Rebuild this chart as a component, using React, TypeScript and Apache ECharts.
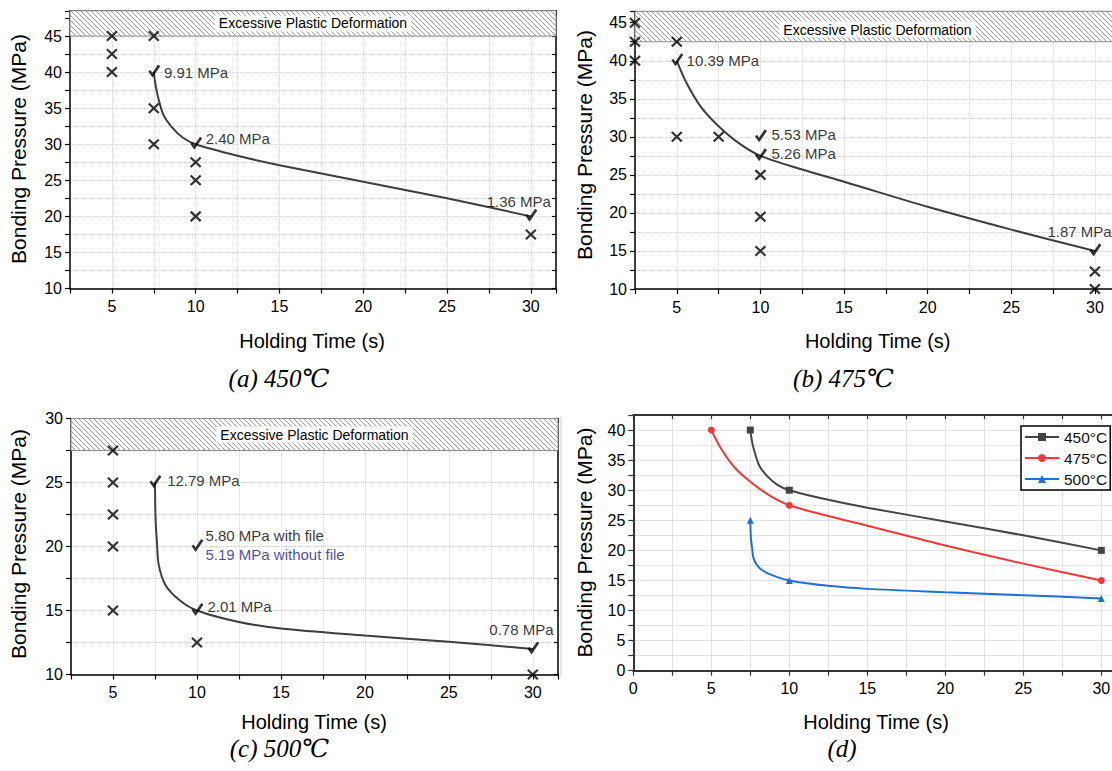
import React, { useEffect, useRef } from "react";
import * as echarts from "echarts";

const SANS = "'Liberation Sans', Arial, Helvetica, sans-serif";
const SERIF = "'Liberation Serif', 'DejaVu Serif', 'Times New Roman', serif";

// ---------- shared axis ranges ----------
const xRangeABC = [2.5, 31.5];
const yRangeA = [10, 48.5];
const yRangeB = [10, 46.5];
const yRangeC = [10, 30];
const xRangeD = [0, 31.5];
const yRangeD = [0, 42.5];

// ---------- excessive plastic deformation bands ----------
const bandA = [45, 48.5];
const bandB = [42.5, 46.5];
const bandC = [27.5, 30];
const bandText = "Excessive Plastic Deformation";

// ---------- panel (a) 450 °C ----------
const failA = [[5, 45], [5, 42.5], [5, 40], [7.5, 45], [7.5, 35], [7.5, 30], [10, 27.5], [10, 25], [10, 20], [30, 17.5]];
const okA = [[7.5, 40], [10, 30], [30, 20]];
const labelTextA = ["9.91 MPa", "2.40 MPa", "1.36 MPa"];
const labelAtA = [[7.5, 40], [10, 30], [30, 20]];

// ---------- panel (b) 475 °C ----------
const failB = [[2.5, 45], [2.5, 42.5], [2.5, 40], [5, 42.5], [5, 30], [7.5, 30], [10, 25], [10, 19.5], [10, 15], [30, 12.3], [30, 10]];
const okB = [[5, 40], [10, 30], [10, 27.5], [30, 15]];
const labelTextB = ["10.39 MPa", "5.53 MPa", "5.26 MPa", "1.87 MPa"];
const labelAtB = [[5, 40], [10, 30], [10, 27.5], [30, 15]];

// ---------- panel (c) 500 °C ----------
const failC = [[5, 27.5], [5, 25], [5, 22.5], [5, 20], [5, 15], [10, 12.5], [30, 10]];
const okC = [[7.5, 25], [10, 20], [10, 15], [30, 12]];
const labelTextC = ["12.79 MPa", "5.80 MPa with file", "5.19 MPa without file", "2.01 MPa", "0.78 MPa"];
const labelAtC = [[7.5, 25], [10, 20], [10, 20], [10, 15], [30, 12]];

// ---------- minimum bonding pressure curves ----------
const curve450 = [[7.5, 40], [7.62, 38], [7.75, 36.6], [8.07, 34.1], [8.6, 32.3], [9.24, 30.9], [10, 30], [12.5, 28.4], [15, 27.1], [20, 24.8], [25, 22.5], [30, 20]];
const curve475 = [[5, 40], [5.6, 37], [6.45, 33.9], [7.5, 31.4], [8.75, 29.1], [10, 27.5], [12.5, 25.7], [15, 24.1], [20, 20.8], [25, 17.8], [30, 15]];
const curve500 = [[7.5, 25], [7.54, 22], [7.62, 20.3], [7.72, 18.6], [8.12, 17], [8.97, 15.8], [10, 15], [12.5, 14.1], [15, 13.6], [20, 13.05], [25, 12.55], [30, 12]];
const min450 = [[7.5, 40], [10, 30], [30, 20]];
const min475 = [[5, 40], [10, 27.5], [30, 15]];
const min500 = [[7.5, 25], [10, 15], [30, 12]];
const seriesNamesD = ["450°C", "475°C", "500°C"];

// ---------- texts ----------
const xTitle = "Holding Time (s)";
const yTitle = "Bonding Pressure (MPa)";
const captions = ["(a) 450℃", "(b) 475℃", "(c) 500℃", "(d)"];

// ---------- layout / style (not data) ----------
const grids = [
  { left: 70, top: 10.8, width: 486, height: 277.7 },
  { left: 635, top: 11.3, width: 485, height: 277.7 },
  { left: 71, top: 418.5, width: 487, height: 256 },
  { left: 633.3, top: 415, width: 491.4, height: 255.7 },
];
const labelOffsetA = [[9.6, 0], [9.5, -6], [-44.7, -14.6]];
const labelOffsetB = [[9.3, -0.7], [10.6, -2.8], [10.6, -2.5], [-48, -19.3]];
const labelOffsetC = [[11.7, -2.5], [8, -11.5], [8, 7.8], [10, -3.8], [-44, -19]];
const labelColorC = ["#000", "#000", "#1a1a8c", "#000", "#000"];
const captionPos = [[279, 378], [843.5, 378], [279.5, 748], [842, 748]];
const xTitlePos = [[312, 340.7], [877.7, 340.7], [314, 721.7], [876, 721.7]];
const yTitlePos = [[18, 149], [584.6, 145], [18, 544], [584.6, 542.5]];
const colorsD = ["#454545", "#ee3a3a", "#1f6fd8"];
const symbolsD = ["rect", "circle", "triangle"];

const CROSS = "path://M0,0L10,10M10,0L0,10";
const CHECK = "path://M0,7L2.2,5.5L4,8.4L9.8,0L12,1.6L4.2,13Z";

const tick5 = (v: number) => (Math.abs(v / 5 - Math.round(v / 5)) < 1e-6 ? String(v) : "");

function makeHatch(): any {
  const size = 5;
  const c = document.createElement("canvas");
  c.width = size;
  c.height = size;
  const ctx = c.getContext("2d")!;
  ctx.fillStyle = "#ffffff";
  ctx.fillRect(0, 0, size, size);
  ctx.strokeStyle = "#8e8e8e";
  ctx.lineWidth = 0.9;
  ctx.beginPath();
  ctx.moveTo(-1, -1);
  ctx.lineTo(size + 1, size + 1);
  ctx.moveTo(-1, size - 1);
  ctx.lineTo(1, size + 1);
  ctx.moveTo(size - 1, -1);
  ctx.lineTo(size + 1, 1);
  ctx.stroke();
  return { image: c.toDataURL(), repeat: "repeat", imageWidth: size, imageHeight: size };
}

export default function App() {
  const ref = useRef<HTMLDivElement>(null);

  useEffect(() => {
    if (!ref.current) return;
    const chart = echarts.init(ref.current, null, { renderer: "svg" });
    const hatch = makeHatch();

    const isD = (i: number) => i === 3;
    const frameColor = (i: number) => (isD(i) ? "#333" : "#000");
    const frameWidth = (i: number) => (isD(i) ? 2 : 1.5);
    const splitStyle = (i: number) =>
      isD(i)
        ? { color: "#e2e2e2", width: 1, type: "solid" }
        : { color: "#cfcfcf", width: 1, type: "dotted" };

    const xRanges = [xRangeABC, xRangeABC, xRangeABC, xRangeD];
    const yRanges = [yRangeA, yRangeB, yRangeC, yRangeD];

    const xAxis: any[] = [];
    const yAxis: any[] = [];
    for (let i = 0; i < 4; i++) {
      const base = {
        type: "value",
        gridIndex: i,
        interval: 2.5,
        axisLine: { show: true, onZero: false, lineStyle: { color: frameColor(i), width: frameWidth(i) } },
      };
      xAxis.push({
        ...base,
        min: xRanges[i][0],
        max: xRanges[i][1],
        position: "bottom",
        axisTick: { show: true, inside: false, length: 5, lineStyle: { color: frameColor(i), width: 1.2 } },
        axisLabel: { formatter: tick5, fontSize: 16, color: "#000", fontFamily: SANS, margin: 10, showMinLabel: true, showMaxLabel: true },
        splitLine: { show: true, lineStyle: splitStyle(i) },
      });
      xAxis.push({
        ...base,
        min: xRanges[i][0],
        max: xRanges[i][1],
        position: "top",
        axisTick: { show: true, inside: true, length: 4, lineStyle: { color: frameColor(i), width: 1.2 } },
        axisLabel: { show: false },
        splitLine: { show: false },
      });
      yAxis.push({
        ...base,
        min: yRanges[i][0],
        max: yRanges[i][1],
        position: "left",
        axisTick: { show: true, inside: false, length: 5, lineStyle: { color: frameColor(i), width: 1.2 } },
        axisLabel: { formatter: tick5, fontSize: 16, color: "#000", fontFamily: SANS, margin: 8, showMinLabel: true, showMaxLabel: true },
        splitLine: { show: true, lineStyle: splitStyle(i) },
      });
      yAxis.push({
        ...base,
        min: yRanges[i][0],
        max: yRanges[i][1],
        position: "right",
        axisTick: { show: true, inside: true, length: 4, lineStyle: { color: frameColor(i), width: 1.2 } },
        axisLabel: { show: false },
        splitLine: { show: false },
      });
    }

    const panelsABC = [
      { band: bandA, fail: failA, ok: okA, curve: curve450, labelAt: labelAtA, labelText: labelTextA, labelOffset: labelOffsetA, labelColor: null as any, bandOffset: [0, 0] },
      { band: bandB, fail: failB, ok: okB, curve: curve475, labelAt: labelAtB, labelText: labelTextB, labelOffset: labelOffsetB, labelColor: null as any, bandOffset: [0, 3] },
      { band: bandC, fail: failC, ok: okC, curve: curve500, labelAt: labelAtC, labelText: labelTextC, labelOffset: labelOffsetC, labelColor: labelColorC, bandOffset: [0, 0] },
    ];

    const series: any[] = [];
    panelsABC.forEach((p, i) => {
      const axes = { xAxisIndex: 2 * i, yAxisIndex: 2 * i };
      series.push({
        type: "scatter",
        ...axes,
        data: p.fail,
        symbol: CROSS,
        symbolSize: [10, 9.5],
        itemStyle: { color: "rgba(0,0,0,0)", borderColor: "#000", borderWidth: 2.2 },
        z: 4,
        markArea: {
          silent: true,
          itemStyle: { color: hatch, borderColor: "#8c8c8c", borderWidth: 1 },
          label: {
            show: true,
            position: "inside",
            color: "#000",
            fontSize: 14,
            fontFamily: SANS,
            backgroundColor: "#ffffff",
            padding: [1, 4],
            offset: p.bandOffset,
          },
          data: [[{ name: bandText, yAxis: p.band[0] }, { yAxis: p.band[1] }]],
        },
      });
      series.push({
        type: "line",
        ...axes,
        data: p.curve,
        smooth: 0.3,
        symbol: "none",
        lineStyle: { color: "#3d3d3d", width: 2 },
        z: 3,
      });
      series.push({
        type: "scatter",
        ...axes,
        data: p.ok,
        symbol: CHECK,
        symbolSize: [12, 13],
        symbolOffset: [0.5, -1],
        itemStyle: { color: "#000" },
        z: 5,
      });
      series.push({
        type: "scatter",
        ...axes,
        symbolSize: 1,
        itemStyle: { color: "rgba(0,0,0,0)" },
        z: 6,
        label: {
          show: true,
          position: "right",
          distance: 0,
          formatter: "{b}",
          fontSize: 15,
          fontFamily: SANS,
          color: "#000",
        },
        data: p.labelAt.map((pt, k) => ({
          name: p.labelText[k],
          value: pt,
          label: { offset: p.labelOffset[k], color: p.labelColor ? p.labelColor[k] : "#000" },
        })),
      });
    });

    const curvesD = [curve450, curve475, curve500];
    const minsD = [min450, min475, min500];
    curvesD.forEach((c, k) => {
      series.push({
        type: "line",
        name: seriesNamesD[k],
        xAxisIndex: 6,
        yAxisIndex: 6,
        smooth: 0.3,
        showAllSymbol: true,
        symbol: symbolsD[k],
        symbolSize: 7,
        itemStyle: { color: colorsD[k] },
        lineStyle: { color: colorsD[k], width: 2 },
        data: c.map((pt) =>
          minsD[k].some((m) => m[0] === pt[0] && m[1] === pt[1]) ? { value: pt } : { value: pt, symbol: "none" }
        ),
        z: 4,
      });
    });

    const graphic: any[] = [];
    for (let i = 0; i < 4; i++) {
      graphic.push({
        type: "text",
        x: xTitlePos[i][0],
        y: xTitlePos[i][1],
        style: { text: xTitle, font: `20px ${SANS}`, fill: "#000", align: "center", verticalAlign: "middle", textAlign: "center", textVerticalAlign: "middle" },
      });
      graphic.push({
        type: "text",
        x: yTitlePos[i][0],
        y: yTitlePos[i][1],
        rotation: Math.PI / 2,
        style: { text: yTitle, font: `21px ${SANS}`, fill: "#000", align: "center", verticalAlign: "middle", textAlign: "center", textVerticalAlign: "middle" },
      });
      graphic.push({
        type: "text",
        x: captionPos[i][0],
        y: captionPos[i][1],
        style: { text: captions[i], font: `italic 25px ${SERIF}`, fill: "#000", align: "center", verticalAlign: "middle", textAlign: "center", textVerticalAlign: "middle" },
      });
    }
    graphic.push({
      type: "line",
      shape: { x1: 561, y1: 417, x2: 561, y2: 677 },
      style: { stroke: "#cfcfcf", lineWidth: 1 },
    });

    chart.setOption({
      animation: false,
      backgroundColor: "#ffffff",
      grid: grids.map((g) => ({ ...g, containLabel: false, outerBoundsMode: "none" })),
      xAxis,
      yAxis,
      legend: {
        data: seriesNamesD,
        orient: "vertical",
        left: 1021,
        top: 426,
        borderColor: "#000",
        borderWidth: 1.5,
        padding: [3, 3, 3, 3],
        itemGap: 5,
        itemWidth: 34,
        itemHeight: 10,
        backgroundColor: "#fff",
        textStyle: { fontSize: 15.5, color: "#111", fontFamily: SANS },
      },
      series,
      graphic,
    });

    return () => chart.dispose();
  }, []);

  return (
    <div style={{ position: "fixed", left: 0, top: 0, width: 1112, height: 771, overflow: "hidden", background: "#fff" }}>
      <div ref={ref} style={{ width: 1150, height: 771 }} />
    </div>
  );
}
